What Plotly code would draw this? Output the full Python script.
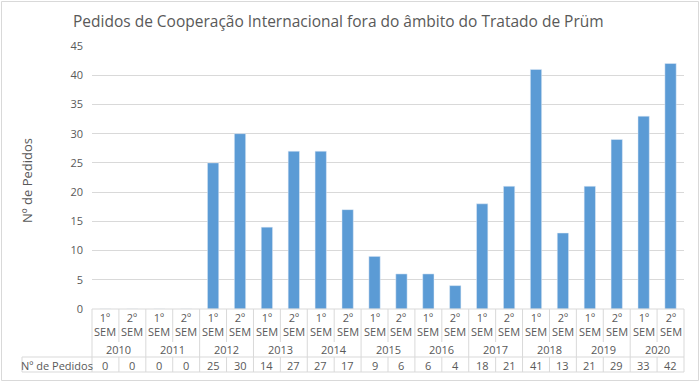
import plotly.graph_objects as go

years = ["2010", "2011", "2012", "2013", "2014", "2015", "2016", "2017", "2018", "2019", "2020"]
semesters = ["1º", "2º"]
values = [0, 0, 0, 0, 25, 30, 14, 27, 27, 17, 9, 6, 6, 4, 18, 21, 41, 13, 21, 29, 33, 42]
title = "Pedidos de Cooperação Internacional fora do âmbito do Tratado de Prüm"
y_title = "Nº de Pedidos"
row_label = "Nº de Pedidos"

W, H = 700, 383
L, R, T, B = 92, 684, 46, 309  # plot area pixel bounds
PW, PH = R - L, B - T

def px(x):
    return (x - L) / PW

def py(y):
    return (B - y) / PH

n = len(values)
cats = list(range(n))
text_color = "#595959"
grid_color = "#D9D9D9"
font_family = "Open Sans, Liberation Sans, sans-serif"

fig = go.Figure()
fig.add_trace(go.Bar(x=cats, y=values, marker_color="#5B9BD5", width=0.42,
                     hoverinfo="y"))

shapes = []
annos = []
line = dict(color=grid_color, width=1)

def hline(y, x0, x1):
    shapes.append(dict(type="line", xref="paper", yref="paper",
                       x0=px(x0), x1=px(x1), y0=py(y), y1=py(y), line=line))

def vline_idx(i, y0, y1):
    x = i / n
    shapes.append(dict(type="line", xref="paper", yref="paper",
                       x0=x, x1=x, y0=py(y0), y1=py(y1), line=line))

# table grid
hline(309, L, R)
hline(357, 22, R)
hline(372, 22, R)
shapes.append(dict(type="line", xref="paper", yref="paper",
                   x0=px(22), x1=px(22), y0=py(357), y1=py(372), line=line))
for i in range(n + 1):
    if i % 2 == 0:
        vline_idx(i, 309, 372)
    else:
        vline_idx(i, 309, 342)
        vline_idx(i, 357, 372)

# outer chart border
shapes.append(dict(type="rect", xref="paper", yref="paper",
                   x0=px(1.5), x1=px(698.5), y0=py(1.5), y1=py(380.5),
                   line=dict(color="#D9D9D9", width=1)))

fnt = dict(family=font_family, size=11, color=text_color)
for i, v in enumerate(values):
    xc = (i + 0.5) / n
    annos.append(dict(x=xc, y=py(324.5), xref="paper", yref="paper",
                      text=semesters[i % 2] + "<br>SEM",
                      showarrow=False, font=fnt, xanchor="center", yanchor="middle"))
    annos.append(dict(x=xc, y=py(365), xref="paper", yref="paper", text=str(v),
                      showarrow=False, font=fnt, xanchor="center", yanchor="middle"))
for k, yr in enumerate(years):
    xc = (2 * k + 1) / n
    annos.append(dict(x=xc, y=py(349), xref="paper", yref="paper", text=yr,
                      showarrow=False, font=fnt, xanchor="center", yanchor="middle"))
annos.append(dict(x=px(57), y=py(365), xref="paper", yref="paper", text=row_label,
                  showarrow=False, font=fnt, xanchor="center", yanchor="middle"))
annos.append(dict(x=px(27), y=py(181), xref="paper", yref="paper", text=y_title,
                  showarrow=False, textangle=-90,
                  font=dict(family=font_family, size=13, color=text_color),
                  xanchor="center", yanchor="middle"))
annos.append(dict(x=px(338), y=py(21), xref="paper", yref="paper", text=title,
                  showarrow=False,
                  font=dict(family=font_family, size=15.5, color=text_color),
                  xanchor="center", yanchor="middle"))

fig.update_layout(
    width=W, height=H,
    margin=dict(l=L, r=W - R, t=T, b=H - B, pad=0),
    paper_bgcolor="white", plot_bgcolor="white",
    showlegend=False,
    bargap=0.58,
    xaxis=dict(range=[-0.5, n - 0.5], showticklabels=False, showgrid=False,
               zeroline=False, ticks="", fixedrange=True),
    yaxis=dict(range=[0, 45], dtick=5, showgrid=True, gridcolor=grid_color,
               gridwidth=1, zeroline=False, ticks="", ticklabelstandoff=8,
               tickfont=dict(family=font_family, size=11, color=text_color),
               fixedrange=True),
    shapes=shapes,
    annotations=annos,
)

fig.write_html("out.html", config={"displayModeBar": False},
               post_script="document.body.style.margin='0';")
